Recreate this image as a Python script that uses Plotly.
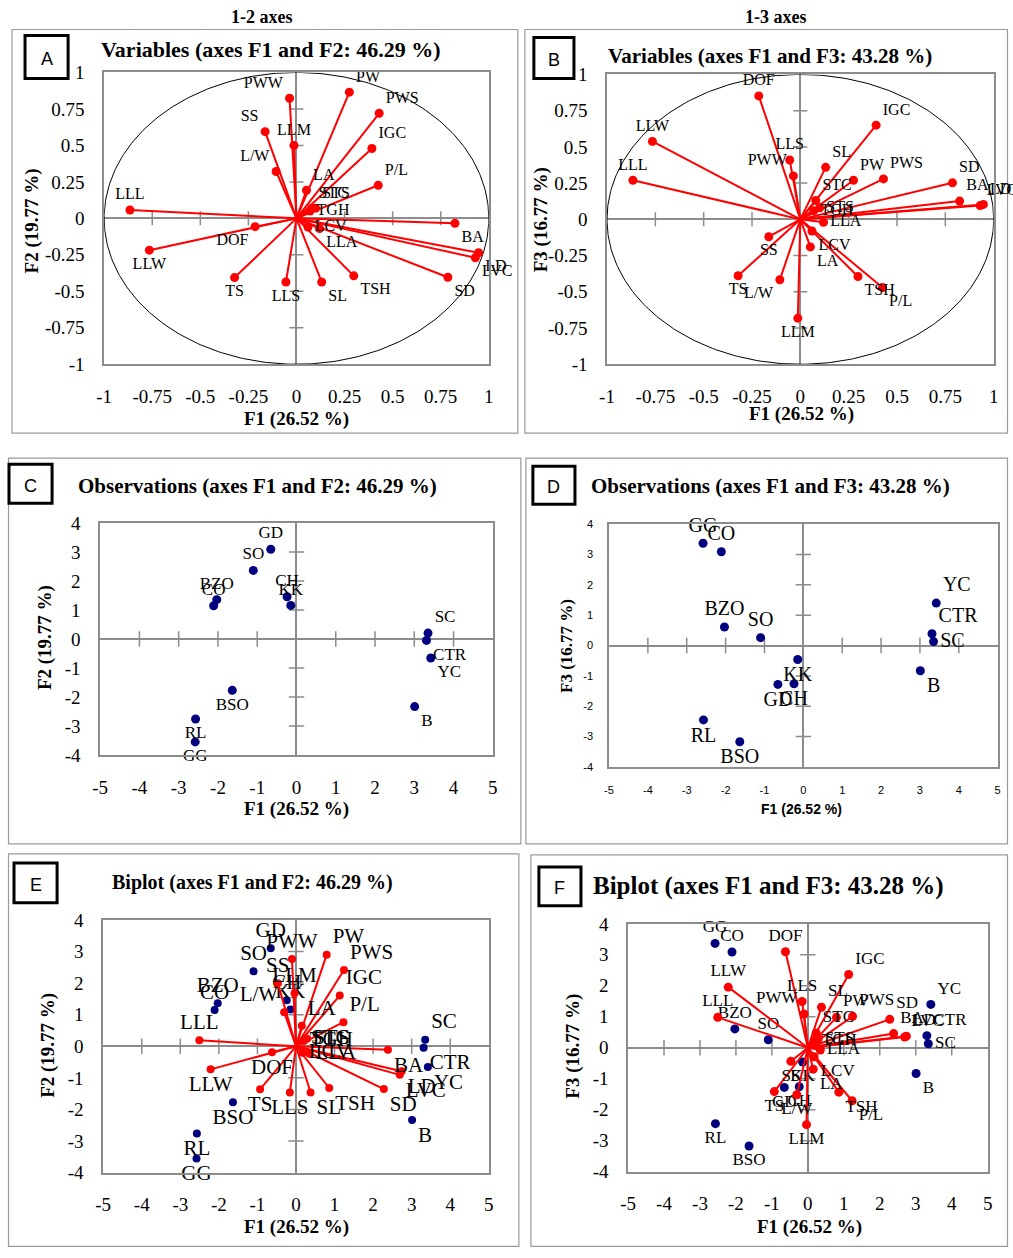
import numpy as np
import plotly.graph_objects as go

# ---------------- data ----------------
var_names = ["DOF", "IGC", "LLW", "LLS", "PWW", "SL", "PW", "PWS", "SD", "LLL", "BA", "LVC", "LD",
             "STC", "TGH", "STS", "LLA", "LCV", "SS", "LA", "TS", "L/W", "TSH", "P/L", "LLM"]
var_f1 = [-0.215, 0.392, -0.765, -0.055, -0.036, 0.131, 0.275, 0.430, 0.787, -0.866, 0.824, 0.930, 0.947,
          0.080, 0.070, 0.100, 0.120, 0.060, -0.163, 0.052, -0.322, -0.106, 0.298, 0.425, -0.013]
var_f2 = [-0.057, 0.479, -0.218, -0.436, 0.823, -0.436, 0.865, 0.720, -0.404, 0.057, -0.034, -0.270, -0.236,
          0.070, 0.050, 0.070, -0.070, -0.060, 0.594, 0.193, -0.406, 0.321, -0.394, 0.227, 0.500]
var_f3 = [0.852, 0.650, 0.538, 0.410, 0.300, 0.359, 0.270, 0.279, 0.252, 0.270, 0.126, 0.095, 0.103,
          0.130, 0.060, 0.080, -0.020, -0.080, -0.120, -0.190, -0.389, -0.417, -0.394, -0.470, -0.682]

obs_names = ["GD", "SO", "BZO", "CO", "CH", "KK", "SC", "CTR", "YC", "BSO", "RL", "GG", "B"]
obs_f1 = [-0.655, -1.10, -2.03, -2.11, -0.24, -0.145, 3.35, 3.31, 3.42, -1.635, -2.57, -2.58, 3.01]
obs_f2 = [3.10, 2.37, 1.36, 1.15, 1.46, 1.16, 0.207, -0.046, -0.655, -1.77, -2.76, -3.55, -2.33]
obs_f3 = [-1.28, 0.26, 0.61, 3.09, -1.26, -0.46, 0.13, 0.39, 1.40, -3.17, -2.45, 3.37, -0.83]

pct_f1, pct_f2, pct_f3 = 26.52, 19.77, 16.77

var_ticks = [-1, -0.75, -0.5, -0.25, 0, 0.25, 0.5, 0.75, 1]
var_ticktext = ["-1", "-0.75", "-0.5", "-0.25", "0", "0.25", "0.5", "0.75", "1"]
obs_xticks = [-5, -4, -3, -2, -1, 0, 1, 2, 3, 4, 5]
obs_yticks = [-4, -3, -2, -1, 0, 1, 2, 3, 4]

# biplot scaling of variables (coords / sqrt(eigenvalue))
nvar = len(var_names)
lam = [p / 100 * nvar for p in (pct_f1, pct_f2, pct_f3)]
C_SCALE = 7.45
s1, s2, s3 = [C_SCALE / np.sqrt(l) for l in lam]

# ---------------- styles ----------------
W, H = 1013, 1258
SERIF = "Liberation Serif, Times New Roman, serif"
SANS = "Liberation Sans, Arial, sans-serif"
GREY = "#8c8c8c"
RED = "#ff0000"
NAVY = "#00007f"

# layout coordinates below are given in target-picture pixels; convert to paper fractions
OX, SX = 8.0, 0.9855
OY, SY = 8.5, 0.984


def px(x):
    return min(max(((x - OX) / SX) / W, 0.0005), 0.9995)


def py(y):
    return min(max(1 - ((y - OY) / SY) / H, 0.0005), 0.9995)


fig = go.Figure()

panels = {
    "A": (104, 488, 71, 363),
    "B": (606, 992, 73, 363),
    "C": (100, 492, 522, 754),
    "D": (608, 996, 523, 766),
    "E": (103, 488, 919, 1172),
    "F": (627, 986, 923, 1171),
}
axis_ids = {"A": ("x", "y"), "B": ("x2", "y2"), "C": ("x3", "y3"),
            "D": ("x4", "y4"), "E": ("x5", "y5"), "F": ("x6", "y6")}


def set_axes(p, xr, yr, xt, xtt, yt, ytt, tfont, xstand, ystand):
    x0, x1, yt0, yb = panels[p]
    xa, ya = axis_ids[p]
    xkey = "xaxis" + xa[1:]
    ykey = "yaxis" + ya[1:]
    common = dict(showgrid=False, zeroline=True, zerolinecolor=GREY, zerolinewidth=1.5,
                  showline=True, mirror=True, linecolor=GREY, linewidth=1.5, ticks="",
                  tickfont=tfont, fixedrange=True)
    fig.update_layout(**{
        xkey: dict(domain=[px(x0), px(x1)], range=xr, tickmode="array", tickvals=xt, ticktext=xtt,
                   anchor=ya, ticklabelstandoff=xstand, **common),
        ykey: dict(domain=[py(yb), py(yt0)], range=yr, tickmode="array", tickvals=yt, ticktext=ytt,
                   anchor=xa, ticklabelstandoff=ystand, **common),
    })


def zero_ticks(p, xt, yt, size):
    xa, ya = axis_ids[p]
    xs = [t for t in xt[1:-1] if t != 0]
    ys = [t for t in yt[1:-1] if t != 0]
    fig.add_trace(go.Scatter(x=xs, y=[0] * len(xs), mode="markers", xaxis=xa, yaxis=ya,
                             marker=dict(symbol="line-ns", size=size, line=dict(color=GREY, width=1.5)),
                             hoverinfo="skip", showlegend=False))
    fig.add_trace(go.Scatter(x=[0] * len(ys), y=ys, mode="markers", xaxis=xa, yaxis=ya,
                             marker=dict(symbol="line-ew", size=size, line=dict(color=GREY, width=1.5)),
                             hoverinfo="skip", showlegend=False))


def add_circle(p):
    xa, ya = axis_ids[p]
    t = np.linspace(0, 2 * np.pi, 361)
    fig.add_trace(go.Scatter(x=np.cos(t), y=np.sin(t), mode="lines", xaxis=xa, yaxis=ya,
                             line=dict(color="black", width=1), hoverinfo="skip", showlegend=False))


def add_vars(p, xs, ys, pos, fsize, msize):
    xa, ya = axis_ids[p]
    lx, ly = [], []
    for x, y in zip(xs, ys):
        lx += [0, x, None]
        ly += [0, y, None]
    fig.add_trace(go.Scatter(x=lx, y=ly, mode="lines", xaxis=xa, yaxis=ya,
                             line=dict(color=RED, width=2), hoverinfo="skip", showlegend=False))
    fig.add_trace(go.Scatter(x=xs, y=ys, mode="markers+text", text=var_names,
                             textposition=[pos.get(n, "top right") for n in var_names],
                             textfont=dict(family=SERIF, size=fsize, color="black"),
                             marker=dict(color=RED, size=msize), cliponaxis=False,
                             xaxis=xa, yaxis=ya, showlegend=False))


def add_obs(p, xs, ys, pos, fsize, msize):
    xa, ya = axis_ids[p]
    fig.add_trace(go.Scatter(x=xs, y=ys, mode="markers+text", text=obs_names,
                             textposition=[pos.get(n, "top center") for n in obs_names],
                             textfont=dict(family=SERIF, size=fsize, color="black"),
                             marker=dict(color=NAVY, size=msize), cliponaxis=False,
                             xaxis=xa, yaxis=ya, showlegend=False))


posA = {"PWW": "top left", "PW": "top right", "PWS": "top right", "IGC": "top right", "P/L": "top right",
        "SS": "top left", "LLM": "top center", "L/W": "top left", "LA": "top right", "LLL": "top center",
        "DOF": "bottom left", "LLW": "bottom center", "TS": "bottom center", "LLS": "bottom center",
        "SL": "bottom right", "TSH": "bottom right", "SD": "bottom right", "LD": "bottom right",
        "LVC": "bottom right", "BA": "bottom right", "STC": "top right", "STS": "top right",
        "TGH": "middle right", "LCV": "middle right", "LLA": "bottom right"}
posB = {"DOF": "top center", "IGC": "top right", "LLW": "top center", "LLS": "top center", "PWW": "top left",
        "SL": "top right", "PW": "top right", "PWS": "top right", "LLL": "top center", "SD": "top right",
        "BA": "top right", "LD": "top right", "LVC": "top right", "STC": "top right", "TGH": "middle right",
        "STS": "middle right", "LLA": "middle right", "LCV": "bottom right", "SS": "bottom center",
        "LA": "bottom right", "TS": "bottom center", "L/W": "bottom left", "TSH": "bottom right",
        "P/L": "bottom right", "LLM": "bottom center"}
posE = {"PWW": "top center", "PW": "top right", "PWS": "top right", "IGC": "top right", "P/L": "top right",
        "SS": "top center", "LLM": "top center", "L/W": "top left", "LA": "top right", "LLL": "top center",
        "DOF": "bottom center", "LLW": "bottom center", "TS": "bottom center", "LLS": "bottom center",
        "SL": "bottom right", "TSH": "bottom right", "SD": "bottom right", "LD": "bottom right",
        "LVC": "bottom right", "BA": "bottom right", "STC": "middle right", "STS": "middle right",
        "TGH": "middle right", "LCV": "middle right", "LLA": "middle right"}
posF = dict(posB)
posF.update({"L/W": "bottom center", "TS": "bottom center"})

posObs12 = {"GD": "top center", "SO": "top center", "BZO": "top center", "CO": "top center",
            "CH": "top center", "KK": "top center", "SC": "top right", "CTR": "bottom right",
            "YC": "bottom right", "BSO": "bottom center", "RL": "bottom center", "GG": "bottom center",
            "B": "bottom right"}
posObs13 = {"GG": "top center", "CO": "top center", "BZO": "top center", "SO": "top center",
            "YC": "top right", "CTR": "top right", "SC": "middle right", "KK": "bottom center",
            "GD": "bottom center", "CH": "bottom center", "B": "bottom right", "RL": "bottom center",
            "BSO": "bottom center"}

tick_serif = dict(family=SERIF, size=19, color="black")
tick_sans = dict(family=SANS, size=11, color="black")
obs_xtt = [str(t) for t in obs_xticks]
obs_ytt = [str(t) for t in obs_yticks]

# ---- A ----
set_axes("A", [-1, 1], [-1, 1], var_ticks, var_ticktext, var_ticks, var_ticktext, tick_serif, 14, 14)
add_circle("A")
zero_ticks("A", var_ticks, var_ticks, 10)
add_vars("A", var_f1, var_f2, posA, 16, 9)

# ---- B ----
set_axes("B", [-1, 1], [-1, 1], var_ticks, var_ticktext, var_ticks, var_ticktext, tick_serif, 14, 14)
add_circle("B")
zero_ticks("B", var_ticks, var_ticks, 10)
add_vars("B", var_f1, var_f3, posB, 16, 9)

# ---- C ----
set_axes("C", [-5, 5], [-4, 4], obs_xticks, obs_xtt, obs_yticks, obs_ytt, tick_serif, 14, 14)
zero_ticks("C", obs_xticks, obs_yticks, 11)
add_obs("C", obs_f1, obs_f2, posObs12, 17, 9)

# ---- D ----
set_axes("D", [-5, 5], [-4, 4], obs_xticks, obs_xtt, obs_yticks, obs_ytt, tick_sans, 12, 12)
zero_ticks("D", obs_xticks, obs_yticks, 11)
add_obs("D", obs_f1, obs_f3, posObs13, 20, 9)

# ---- E ----
set_axes("E", [-5, 5], [-4, 4], obs_xticks, obs_xtt, obs_yticks, obs_ytt, tick_serif, 14, 14)
zero_ticks("E", obs_xticks, obs_yticks, 11)
add_obs("E", obs_f1, obs_f2, posObs12, 21, 8)
add_vars("E", [v * s1 for v in var_f1], [v * s2 for v in var_f2], posE, 21, 8)

# ---- F ----
set_axes("F", [-5, 5], [-4, 4], obs_xticks, obs_xtt, obs_yticks, obs_ytt, tick_serif, 14, 14)
zero_ticks("F", obs_xticks, obs_yticks, 11)
add_obs("F", obs_f1, obs_f3, posObs13, 17, 9)
add_vars("F", [v * s1 for v in var_f1], [v * s3 for v in var_f3], posF, 17, 9)

# ---------------- frames, letter boxes, titles ----------------
shapes = []
frames = [(12, 28, 517, 432), (524, 28, 1010, 432), (5, 457, 520, 843), (525, 457, 1011, 843),
          (5, 853, 518, 1258), (530, 854, 1011, 1258)]
for (x0, y0, x1, y1) in frames:
    shapes.append(dict(type="rect", xref="paper", yref="paper", x0=px(x0), x1=px(x1), y0=py(y1), y1=py(y0),
                       line=dict(color="#9a9a9a", width=1.2), layer="below"))

letters = [("A", 25, 34, 68, 77), ("B", 533, 36, 573, 77), ("C", 9, 463, 52, 502),
           ("D", 532, 465, 574, 503), ("E", 14, 862, 57, 902), ("F", 538, 866, 580, 905)]
annotations = []
for (L, x0, y0, x1, y1) in letters:
    shapes.append(dict(type="rect", xref="paper", yref="paper", x0=px(x0), x1=px(x1), y0=py(y1), y1=py(y0),
                       line=dict(color="black", width=3)))
    annotations.append(dict(text=L, x=px((x0 + x1) / 2), y=py((y0 + y1) / 2 + 2), xref="paper", yref="paper",
                            showarrow=False, xanchor="center", yanchor="middle",
                            font=dict(family=SANS, size=18, color="black")))


def ann(text, x, y, size, family=SERIF, angle=0, xanchor="center"):
    annotations.append(dict(text=text, x=px(x), y=py(y), xref="paper", yref="paper", showarrow=False,
                            xanchor=xanchor, yanchor="middle", textangle=angle,
                            font=dict(family=family, size=size, color="black")))


ann("<b>1-2 axes</b>", 262, 16, 18)
ann("<b>1-3 axes</b>", 775, 16, 18)
ann("<b>Variables (axes F1 and F2: 46.29 %)</b>", 99, 48, 22, xanchor="left")
ann("<b>Variables (axes F1 and F3: 43.28 %)</b>", 605, 55, 21, xanchor="left")
ann("<b>Observations (axes F1 and F2: 46.29 %)</b>", 76, 485, 21, xanchor="left")
ann("<b>Observations (axes F1 and F3: 43.28 %)</b>", 588, 485, 21, xanchor="left")
ann("<b>Biplot (axes F1 and F2: 46.29 %)</b>", 110, 882, 20, xanchor="left")
ann("<b>Biplot (axes F1 and F3: 43.28 %)</b>", 590, 885, 25, xanchor="left")

f1t = "<b>F1 (%.2f %%)</b>" % pct_f1
f2t = "<b>F2 (%.2f %%)</b>" % pct_f2
f3t = "<b>F3 (%.2f %%)</b>" % pct_f3
ann(f1t, 296, 418, 19)
ann(f1t, 800, 413, 19)
ann(f1t, 296, 808, 19)
ann(f1t, 800, 808, 14, family=SANS)
ann(f1t, 296, 1226, 19)
ann(f1t, 808, 1226, 19)
ann(f2t, 32, 220, 19, angle=-90)
ann(f3t, 540, 218, 19, angle=-90)
ann(f2t, 45, 637, 19, angle=-90)
ann(f3t, 565, 645, 17, angle=-90)
ann(f2t, 48, 1045, 19, angle=-90)
ann(f3t, 572, 1045, 19, angle=-90)

fig.update_layout(width=W, height=H, margin=dict(l=0, r=0, t=0, b=0), paper_bgcolor="white",
                  plot_bgcolor="white", showlegend=False, shapes=shapes, annotations=annotations)

fig.write_html("out.html", config={"displayModeBar": False},
               post_script="document.body.style.margin='0px';document.body.style.overflow='hidden';")
